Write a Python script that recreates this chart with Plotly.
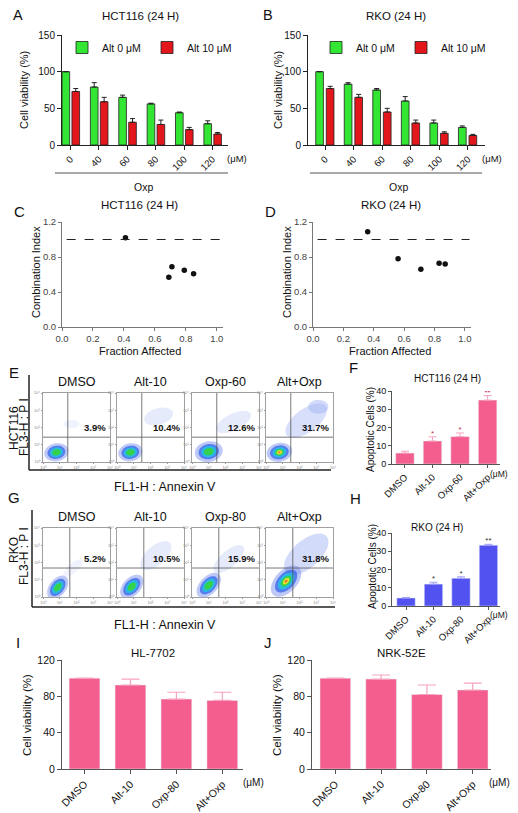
import numpy as np
import plotly.graph_objects as go

OFF = 8  # the page body margin shifts the figure by this many pixels
W, H = 518 - OFF, 813 - OFF
FONT = "Arial, Liberation Sans, sans-serif"

# ---- data ----
OXP_DOSES = ["0", "40", "60", "80", "100", "120"]
HCT_ALT0 = [100, 79, 65, 56, 44, 29]
HCT_ALT0_ERR = [0, 6, 3, 1, 1, 4]
HCT_ALT10 = [73, 59, 31, 28, 21, 15]
HCT_ALT10_ERR = [4, 6, 5, 6, 3, 2]
RKO_ALT0 = [100, 83, 75, 60, 30, 24]
RKO_ALT0_ERR = [0, 2, 2, 6, 4, 2]
RKO_ALT10 = [77, 65, 45, 30, 16, 13]
RKO_ALT10_ERR = [3, 4, 5, 4, 2, 1.5]

HCT_FA = [0.41, 0.69, 0.71, 0.79, 0.85]
HCT_CI = [1.02, 0.57, 0.69, 0.65, 0.61]
RKO_FA = [0.36, 0.56, 0.71, 0.83, 0.87]
RKO_CI = [1.09, 0.78, 0.66, 0.73, 0.72]
CI_LINE = 1.0

FLOW_HCT_GROUPS = ["DMSO", "Alt-10", "Oxp-60", "Alt+Oxp"]
FLOW_HCT_PCT = ["3.9%", "10.4%", "12.6%", "31.7%"]
FLOW_RKO_GROUPS = ["DMSO", "Alt-10", "Oxp-80", "Alt+Oxp"]
FLOW_RKO_PCT = ["5.2%", "10.5%", "15.9%", "31.8%"]

APOP_HCT_GROUPS = ["DMSO", "Alt-10", "Oxp-60", "Alt+Oxp"]
APOP_HCT = [6, 12.6, 15, 35]
APOP_HCT_ERR = [1, 2.3, 2, 2.5]
APOP_RKO_GROUPS = ["DMSO", "Alt-10", "Oxp-80", "Alt+Oxp"]
APOP_RKO = [4.4, 12, 15.2, 33.3]
APOP_RKO_ERR = [0.3, 1, 0.8, 0.5]
APOP_STARS = ["", "*", "*", "**"]

NORMAL_GROUPS = ["DMSO", "Alt-10", "Oxp-80", "Alt+Oxp"]
HL7702 = [100, 92.5, 77, 75.5]
HL7702_ERR = [0, 6.5, 7.5, 9]
NRK52E = [100, 99, 82, 87]
NRK52E_ERR = [0, 4.5, 10.5, 7.5]

GREEN = "#33E633"
RED = "#E3161C"
PINK = "#F45E8F"
PINK_ERR = "#F7A3BE"
BLUE = "#5252F0"
BLUE_ERR = "#A0A0F6"


def X(p):
    return (p - OFF) / W


def Y(p):
    return 1 - (p - OFF) / H


layout = dict(
    width=W, height=H, margin=dict(l=0, r=0, t=0, b=0, autoexpand=False),
    paper_bgcolor="white", plot_bgcolor="rgba(0,0,0,0)",
    font=dict(family=FONT, size=10, color="#111"),
)
traces, shapes, annotations = [], [], []
counter = [0]


def new_axes(xpx, ypx, xopts, yopts):
    counter[0] += 1
    s = "" if counter[0] == 1 else str(counter[0])
    layout["xaxis" + s] = dict(domain=[X(xpx[0]), X(xpx[1])], anchor="y" + s, **xopts)
    layout["yaxis" + s] = dict(domain=[Y(ypx[1]), Y(ypx[0])], anchor="x" + s, **yopts)
    return "x" + s, "y" + s


def lin_axis(**kw):
    base = dict(showline=True, linecolor="#222", linewidth=1, ticks="outside",
                ticklen=4, tickwidth=1, tickcolor="#222", showgrid=False,
                zeroline=False, tickfont=dict(size=10, color="#111"))
    base.update(kw)
    return base


def text(x, y, s, size=10, color="#111", **kw):
    annotations.append(dict(x=X(x), y=Y(y), xref="paper", yref="paper", text=s,
                            xanchor="center", yanchor="middle",
                            showarrow=False, font=dict(size=size, family=FONT, color=color), **kw))


def hline_px(x0, x1, y, width=1, color="#222"):
    shapes.append(dict(type="line", xref="paper", yref="paper", x0=X(x0), x1=X(x1),
                       y0=Y(y), y1=Y(y), line=dict(color=color, width=width)))


def vline_px(x, y0, y1, width=1, color="#222"):
    shapes.append(dict(type="line", xref="paper", yref="paper", x0=X(x), x1=X(x),
                       y0=Y(y0), y1=Y(y1), line=dict(color=color, width=width)))


# ---- A / B: dose response bars ----
def dose_panel(xpx, xr, offs, alt0, e0, alt10, e10, legend):
    xa, ya = new_axes(xpx, (35, 145),
                      lin_axis(type="category", range=xr, tickangle=-45, tickfont=dict(size=9.5)),
                      lin_axis(range=[0, 150], tickvals=[0, 50, 100, 150]))
    for vals, errs, col, off, name in [(alt0, e0, GREEN, offs[0], "Alt 0 μM"),
                                       (alt10, e10, RED, offs[1], "Alt 10 μM")]:
        traces.append(go.Bar(
            x=OXP_DOSES, y=vals, width=0.27, offset=off, name=name, legend=legend,
            marker=dict(color=col, line=dict(color="#222", width=0.8)),
            error_y=dict(type="data", array=errs, arrayminus=[0] * len(errs), symmetric=False,
                         color="#222", thickness=1, width=2.5),
            xaxis=xa, yaxis=ya))


dose_panel((62, 228), [-0.3, 5.55], (-0.3, 0.05), HCT_ALT0, HCT_ALT0_ERR, HCT_ALT10, HCT_ALT10_ERR, "legend")
dose_panel((308, 485), [-0.6, 5.6], (-0.33, 0.04), RKO_ALT0, RKO_ALT0_ERR, RKO_ALT10, RKO_ALT10_ERR, "legend2")

leg = dict(orientation="h", xanchor="left", yanchor="top", font=dict(size=10.5),
           bgcolor="rgba(0,0,0,0)", itemwidth=30, entrywidth=40, tracegroupgap=0)
layout["legend"] = dict(leg, x=X(62), y=Y(33))
layout["legend2"] = dict(leg, x=X(316), y=Y(33))

text(18, 15, "A", 14.5)
text(268, 15, "B", 14.5)
text(140, 16, "HCT116 (24 H)", 11.5)
text(396, 16, "RKO (24 H)", 11.5)
text(24, 90, "Cell viability (%)", 11, textangle=-90)
text(278, 90, "Cell viability (%)", 11, textangle=-90)
text(237, 158, "(μM)", 9.5)
text(492, 158, "(μM)", 9.5)
hline_px(55, 228, 173, 1.2, "#555")
hline_px(310, 482, 173, 1.2, "#555")
text(143, 187, "Oxp", 10.5)
text(398, 187, "Oxp", 10.5)

# ---- C / D: combination index ----
def ci_panel(xpx, fa, ci):
    gray = "#777"
    xa, ya = new_axes(xpx, (222, 327),
                      lin_axis(range=[0, 1.04], tickvals=[0, 0.2, 0.4, 0.6, 0.8, 1.0], tickformat=".1f",
                               linecolor=gray, tickcolor=gray, ticklen=3,
                               tickfont=dict(size=9.5, color="#444")),
                      lin_axis(range=[0, 1.2], tickvals=[0, 0.4, 0.8, 1.2], tickformat=".1f",
                               linecolor=gray, tickcolor=gray, ticklen=3,
                               tickfont=dict(size=9.5, color="#444")))
    traces.append(go.Scatter(x=fa, y=ci, mode="markers", showlegend=False,
                             marker=dict(color="#111", size=5.5), xaxis=xa, yaxis=ya))
    shapes.append(dict(type="line", xref=xa, yref=ya, x0=0.03, x1=1.03, y0=CI_LINE, y1=CI_LINE,
                       line=dict(color="#222", width=1.2, dash="dash")))


ci_panel((62, 223), HCT_FA, HCT_CI)
ci_panel((313, 471), RKO_FA, RKO_CI)
text(19, 211, "C", 15)
text(270, 211, "D", 15)
text(139, 205, "HCT116 (24 H)", 11.5)
text(391, 205, "RKO (24 H)", 11.5)
text(36, 272, "Combination Index", 11, textangle=-90)
text(287, 272, "Combination Index", 11, textangle=-90)
text(140, 351, "Fraction Affected", 11)
text(390, 351, "Fraction Affected", 11)

# ---- E / G: flow cytometry dot plots ----
FLOW_COLS = [(43, 110), (117, 184), (192, 259), (266, 333)]


def ellipse_path(cx, cy, rx, ry, ang):
    t = np.linspace(0, 2 * np.pi, 40)
    a = np.deg2rad(ang)
    xs = cx + rx * np.cos(t) * np.cos(a) - ry * np.sin(t) * np.sin(a)
    ys = cy + rx * np.cos(t) * np.sin(a) + ry * np.sin(t) * np.cos(a)
    return "M" + " L".join(f"{u:.4f},{v:.4f}" for u, v in zip(xs, ys)) + " Z"


def blob(xa, ya, cx, cy, s, ang, elong, hot=False):
    layers = [("#6F86EE", 0.45, 0.13), ("#2A5CE8", 0.7, 0.095), ("#1FC4E0", 0.85, 0.07), ("#36D43A", 0.9, 0.045)]
    if hot:
        layers += [("#ECE531", 0.95, 0.028), ("#E8702A", 0.9, 0.013)]
    for col, op, r in layers:
        shapes.append(dict(type="path", xref=xa, yref=ya, path=ellipse_path(cx, cy, r * s * elong, r * s, ang),
                           fillcolor=col, opacity=op, line=dict(width=0), layer="above"))


def tail(xa, ya, cx, cy, rx, ry, ang, op):
    shapes.append(dict(type="path", xref=xa, yref=ya, path=ellipse_path(cx, cy, rx, ry, ang),
                       fillcolor="#9DB0F3", opacity=op, line=dict(width=0), layer="above"))


def flow_axis():
    return dict(range=[0, 1], showline=True, mirror=True, linecolor="#a0a0a0", linewidth=0.6,
                ticks="outside", ticklen=1.5, tickcolor="#999", tickvals=[0, 0.25, 0.5, 0.75, 1],
                ticktext=["10⁰", "10¹", "10²", "10³", "10⁴"], tickfont=dict(size=4, color="#888"),
                showgrid=False, zeroline=False)


def flow_row(ytop, ybot, groups, pcts, qv, qh, clouds, title_y):
    for i, (x0, x1) in enumerate(FLOW_COLS):
        xa, ya = new_axes((x0, x1), (ytop, ybot), flow_axis(), flow_axis())
        for kind, args in clouds[i]:
            (tail if kind == "tail" else blob)(xa, ya, *args)
        shapes.append(dict(type="line", xref=xa, yref=ya, x0=qv, x1=qv, y0=0, y1=1,
                           line=dict(color="#555", width=0.8), layer="above"))
        shapes.append(dict(type="line", xref=xa, yref=ya, x0=0, x1=1, y0=qh, y1=qh,
                           line=dict(color="#555", width=0.8), layer="above"))
        annotations.append(dict(x=0.97, y=qh + 0.03, xref=xa, yref=ya, text="<b>" + pcts[i] + "</b>",
                                showarrow=False, xanchor="right", yanchor="bottom",
                                font=dict(size=9.5, family=FONT, color="#111")))
        text((x0 + x1) / 2, title_y, groups[i], 12.5)


HCT_CLOUDS = [
    [("tail", (0.42, 0.55, 0.12, 0.06, 0, 0.15)), ("blob", (0.2, 0.14, 1.0, 10, 1.4))],
    [("tail", (0.62, 0.66, 0.22, 0.12, 15, 0.25)), ("blob", (0.2, 0.14, 1.0, 10, 1.4))],
    [("tail", (0.62, 0.58, 0.28, 0.12, 25, 0.25)), ("blob", (0.25, 0.15, 1.15, 10, 1.4))],
    [("tail", (0.6, 0.6, 0.36, 0.17, 35, 0.4)), ("tail", (0.78, 0.8, 0.15, 0.1, 0, 0.45)),
     ("blob", (0.2, 0.14, 1.05, 10, 1.4, True))],
]
RKO_CLOUDS = [
    [("tail", (0.45, 0.42, 0.18, 0.07, 40, 0.15)), ("blob", (0.22, 0.14, 0.95, 50, 1.6))],
    [("tail", (0.58, 0.6, 0.28, 0.14, 40, 0.25)), ("blob", (0.22, 0.15, 1.0, 45, 1.6))],
    [("tail", (0.55, 0.55, 0.28, 0.12, 40, 0.25)), ("blob", (0.25, 0.17, 1.0, 45, 1.7))],
    [("tail", (0.6, 0.62, 0.4, 0.2, 40, 0.45)), ("blob", (0.3, 0.23, 1.25, 45, 1.7, True))],
]

flow_row(393, 462, FLOW_HCT_GROUPS, FLOW_HCT_PCT, 0.37, 0.36, HCT_CLOUDS, 382)
flow_row(528, 597, FLOW_RKO_GROUPS, FLOW_RKO_PCT, 0.40, 0.42, RKO_CLOUDS, 517)

text(14, 372, "E", 15)
text(14, 497, "G", 15)
vline_px(29, 375, 470, 1.5)
hline_px(29, 331, 470, 1.5)
vline_px(32, 510, 607, 1.5)
hline_px(32, 335, 607, 1.5)
text(14, 428, "HCT116", 12, textangle=-90)
text(24, 427, "FL3-H : P I", 12, textangle=-90)
text(14, 550, "RKO", 12, textangle=-90)
text(24, 556, "FL3-H : P I", 12, textangle=-90)
text(165, 487, "FL1-H : Annexin V", 12.5)
text(165, 625, "FL1-H : Annexin V", 12.5)

# ---- F / H: apoptosis bars ----
def apop_panel(ypx, xr, groups, vals, errs, col, ecol, star_col):
    xa, ya = new_axes((392, 500), ypx,
                      lin_axis(type="category", range=xr, tickangle=-45, linecolor="#555", tickcolor="#555",
                               ticklen=3, tickfont=dict(size=9.5)),
                      lin_axis(range=[0, 40], tickvals=[0, 10, 20, 30, 40], linecolor="#555",
                               tickcolor="#555", ticklen=3, tickfont=dict(size=9)))
    traces.append(go.Bar(x=groups, y=vals, width=0.67, showlegend=False, marker=dict(color=col),
                         error_y=dict(type="data", array=errs, arrayminus=[0] * len(errs), symmetric=False,
                                      color=ecol, thickness=1, width=4),
                         xaxis=xa, yaxis=ya))
    traces.append(go.Scatter(x=groups, y=[v + e + 1.6 for v, e in zip(vals, errs)], mode="text",
                             text=APOP_STARS, textfont=dict(size=8, color=star_col), showlegend=False,
                             xaxis=xa, yaxis=ya))


apop_panel((391, 464), [-0.47, 3.45], APOP_HCT_GROUPS, APOP_HCT, APOP_HCT_ERR, PINK, PINK_ERR, "#C0305A")
apop_panel((533, 606), [-0.51, 3.42], APOP_RKO_GROUPS, APOP_RKO, APOP_RKO_ERR, BLUE, BLUE_ERR, "#333")
text(353, 368, "F", 15)
text(355, 498, "H", 15)
text(447, 378, "HCT116 (24 H)", 10)
text(437, 527, "RKO (24 H)", 10)
text(370, 430, "Apoptotic Cells (%)", 10, textangle=-90)
text(372, 567, "Apoptotic Cells (%)", 10, textangle=-90)
text(499, 474, "(μM)", 8.5)
text(499, 615, "(μM)", 8.5)

# ---- I / J: normal cell viability ----
def normal_panel(xpx, xr, vals, errs):
    xa, ya = new_axes(xpx, (660, 769),
                      lin_axis(type="category", range=xr, tickangle=-45, linecolor="#555", tickcolor="#555",
                               tickfont=dict(size=10.5)),
                      lin_axis(range=[0, 120], tickvals=[0, 40, 80, 120], linecolor="#555",
                               tickcolor="#555", tickfont=dict(size=10.5)))
    traces.append(go.Bar(x=NORMAL_GROUPS, y=vals, width=0.67, showlegend=False, marker=dict(color=PINK),
                         error_y=dict(type="data", array=errs, arrayminus=[0] * len(errs), symmetric=False,
                                      color=PINK_ERR, thickness=1.2, width=9),
                         xaxis=xa, yaxis=ya))


normal_panel((62, 243), [-0.49, 3.45], HL7702, HL7702_ERR)
normal_panel((312, 491), [-0.51, 3.40], NRK52E, NRK52E_ERR)
text(18, 642, "I", 15)
text(268, 642, "J", 15)
text(153, 653, "HL-7702", 11.5)
text(401, 653, "NRK-52E", 11.5)
text(27, 715, "Cell viability (%)", 11.5, textangle=-90)
text(277, 715, "Cell viability (%)", 11.5, textangle=-90)
text(253, 782, "(μM)", 10)
text(499, 782, "(μM)", 10)

layout["shapes"] = shapes
layout["annotations"] = annotations
fig = go.Figure(data=traces, layout=layout)
fig.write_html("out.html")
